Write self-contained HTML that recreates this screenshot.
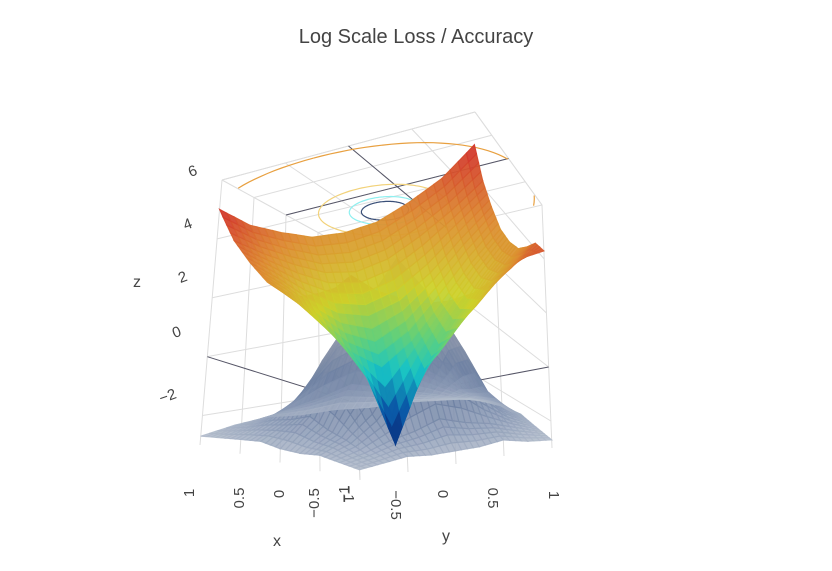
<!DOCTYPE html>
<html><head><meta charset="utf-8">
<style>
html,body{margin:0;padding:0;background:#fff;}
svg{display:block;font-family:"Liberation Sans","DejaVu Sans",sans-serif;}
</style></head>
<body>
<svg id="chart" width="832" height="571" viewBox="0 0 832 571">
<rect width="832" height="571" fill="#fff"/>
<text x="416" y="43" text-anchor="middle" font-size="20" fill="#444">Log Scale Loss / Accuracy</text>
<g id="grid"></g>
<g id="contours"></g>
<g id="acc"></g>
<g id="loss"></g>
<g id="labels" font-size="15" fill="#444"></g>
</svg>
<script>
// ---- data ----
const xVals = [-1,-0.75,-0.5,-0.25,0,0.25,0.5,0.75,1];
const yVals = [-1,-0.75,-0.5,-0.25,0,0.25,0.5,0.75,1];
const lossZ = [
 [5.0,4.2,3.7,3.3,3.2,3.3,3.7,4.2,5.0],
 [4.2,3.5,2.9,2.4,2.2,2.4,2.9,3.5,4.2],
 [3.7,2.9,2.0,1.3,1.0,1.3,2.0,2.9,3.7],
 [3.3,2.4,1.3,0.2,-0.5,0.2,1.3,2.4,3.3],
 [3.2,2.2,1.0,-0.5,-3.0,-0.5,1.0,2.2,3.2],
 [3.3,2.4,1.3,0.2,-0.5,0.2,1.3,2.4,3.3],
 [3.7,2.9,2.0,1.3,1.0,1.3,2.0,2.9,3.7],
 [4.2,3.5,2.9,2.4,2.2,2.4,2.9,3.5,4.2],
 [4.3,4.2,3.7,3.3,3.2,3.3,3.7,4.2,5.0]
];
const accZ = [
 [-2.6,-2.5,-2.4,-2.5,-2.5,-2.4,-2.5,-2.6,-2.7],
 [-2.5,-2.3,-2.0,-1.8,-1.5,-1.8,-2.0,-2.3,-2.5],
 [-2.4,-2.0,-1.2,0.1,0.5,0.1,-1.2,-2.0,-2.4],
 [-2.5,-1.8,0.1,1.5,2.2,1.5,0.1,-1.8,-2.5],
 [-2.5,-1.5,0.5,2.2,3.5,2.2,0.5,-1.5,-2.5],
 [-2.5,-1.8,0.1,1.5,2.2,1.5,0.1,-1.8,-2.6],
 [-2.4,-2.0,-1.2,0.1,0.5,0.1,-1.2,-2.1,-2.6],
 [-2.6,-2.3,-2.0,-1.8,-1.5,-1.8,-2.0,-2.4,-2.7],
 [-2.7,-2.6,-2.5,-2.4,-2.5,-2.5,-2.6,-2.7,-2.8]
];
const contourLevels = [0.2, 0.3, 0.55, 1.35];
const contourColors = ["#3a4f78","#8ff0f0","#f2d27a","#e8a040"];
const zTicks = [6,4,2,0,-2];
const xTicks = ["1","0.5","0","−0.5","−1"];
const yTicks = ["−1","−0.5","0","0.5","1"];

// ---- projection (bilinear box mapping) ----
const zb=-3, zt=6;
const F={A:[200,445],B:[470,405],C:[552,448],D:[360,480]};
const T={A:[222,180],B:[475,112],C:[542,205],D:[350,250]};
function bil(K,x,y){const u=(1-x)/2,v=(y+1)/2;
 return [K.A[0]*(1-u)*(1-v)+K.B[0]*(1-u)*v+K.C[0]*u*v+K.D[0]*u*(1-v),
         K.A[1]*(1-u)*(1-v)+K.B[1]*(1-u)*v+K.C[1]*u*v+K.D[1]*u*(1-v)];}
function proj(x,y,z){const t=(z-zb)/(zt-zb);const f=bil(F,x,y),g=bil(T,x,y);
 return [f[0]+t*(g[0]-f[0]), f[1]+t*(g[1]-f[1])];}
const NS="http://www.w3.org/2000/svg";
function hex(c){return [parseInt(c.slice(1,3),16),parseInt(c.slice(3,5),16),parseInt(c.slice(5,7),16)];}
function scale(stops,z){if(z<=stops[0][0])return stops[0][1];
 for(let i=1;i<stops.length;i++){if(z<=stops[i][0]){const a=stops[i-1],b=stops[i];const t=(z-a[0])/(b[0]-a[0]);
 const ca=hex(a[1]),cb=hex(b[1]);return "rgb("+ca.map((v,k)=>Math.round(v+(cb[k]-v)*t)).join(",")+")";}}
 return stops[stops.length-1][1];}
const lossScale=[[-3,"#0a1f6e"],[-1.8,"#0b5aa8"],[-0.6,"#17c3c6"],[0.4,"#5fd07c"],[1.6,"#cdd22a"],[2.4,"#d6b42e"],[3.4,"#dc8a30"],[5,"#d2302c"]];
const accScale=[[-2.7,"#b2bccb"],[-2.0,"#8c9bb6"],[-1.0,"#6f82a3"],[0.5,"#8e97ab"],[3.5,"#aaaaae"]];

function surface(gid,Z,sc,op,name){
 const g=document.getElementById(gid);const S=4;const quads=[];
 const n=xVals.length;
 for(let j=0;j<n-1;j++)for(let i=0;i<n-1;i++){
  for(let a=0;a<S;a++)for(let b=0;b<S;b++){
   const pts=[[a,b],[a+1,b],[a+1,b+1],[a,b+1]].map(([p,q])=>{
    const s=p/S,r=q/S;
    const x=xVals[i]+(xVals[i+1]-xVals[i])*s, y=yVals[j]+(yVals[j+1]-yVals[j])*r;
    const z=Z[j][i]*(1-s)*(1-r)+Z[j][i+1]*s*(1-r)+Z[j+1][i+1]*s*r+Z[j+1][i]*(1-s)*r;
    return [x,y,z];});
   const cx=pts.reduce((m,p)=>m+p[0],0)/4, cy=pts.reduce((m,p)=>m+p[1],0)/4, cz=pts.reduce((m,p)=>m+p[2],0)/4;
   quads.push({pts,depth:(1+cx)/2+(cy+1)/2,cz});
  }}
 quads.sort((p,q)=>p.depth-q.depth);
 quads.forEach(qd=>{
  const el=document.createElementNS(NS,"polygon");
  el.setAttribute("points",qd.pts.map(p=>proj(...p).map(v=>v.toFixed(1)).join(",")).join(" "));
  const c=scale(sc,qd.cz);
  el.setAttribute("fill",c);el.setAttribute("stroke",c);el.setAttribute("stroke-width","1.1");
  el.setAttribute("fill-opacity",op);el.setAttribute("stroke-opacity",op);
  
  
  g.appendChild(el);
 });
}

function line(g,a,b,col,w){const l=document.createElementNS(NS,"line");
 l.setAttribute("x1",a[0]);l.setAttribute("y1",a[1]);l.setAttribute("x2",b[0]);l.setAttribute("y2",b[1]);
 l.setAttribute("stroke",col);l.setAttribute("stroke-width",w);
 
 
 g.appendChild(l);}
const grid=document.getElementById("grid");
[-1,-0.5,0,0.5,1].forEach(v=>{
 line(grid,proj(v,-1,zb),proj(v,-1,zt),"#ddd",1);
 line(grid,proj(-1,v,zb),proj(-1,v,zt),"#ddd",1);
 line(grid,proj(v,-1,zt),proj(v,1,zt),"#ddd",1);
 line(grid,proj(-1,v,zt),proj(1,v,zt),"#ddd",1);
});
zTicks.forEach(z=>{line(grid,proj(1,-1,z),proj(1,1,z),"#ddd",1);line(grid,proj(1,1,z),proj(-1,1,z),"#ddd",1);});
line(grid,proj(1,-1,0),proj(-1,-1,0),"#556",1);line(grid,proj(-1,-1,0),proj(-1,1,0),"#556",1);
line(grid,proj(0,-1,zt),proj(0,1,zt),"#556",1);line(grid,proj(-1,0,zt),proj(1,0,zt),"#556",1);

const cg=document.getElementById("contours");
contourLevels.forEach((r,k)=>{
 let seg=[];
 const flush=()=>{if(seg.length>1){const pl=document.createElementNS(NS,"polyline");
  pl.setAttribute("points",seg.map(p=>p[0].toFixed(1)+","+p[1].toFixed(1)).join(" "));
  pl.setAttribute("fill","none");pl.setAttribute("stroke",contourColors[k]);pl.setAttribute("stroke-width","1.2");
  
  
  cg.appendChild(pl);} seg=[];};
 for(let a=0;a<=128;a++){const th=a/128*2*Math.PI;
  const x=r*Math.cos(th)-0.4, y=r*Math.sin(th)-0.3;
  if(Math.abs(x)<=1&&Math.abs(y)<=1) seg.push(proj(x,y,zt)); else flush();}
 flush();
});

surface("acc",accZ,accScale,0.85,"accuracy-patch");
surface("loss",lossZ,lossScale,0.95,"loss-patch");

const lg=document.getElementById("labels");
function txt(s,x,y,rot,name,size){const t=document.createElementNS(NS,"text");
 t.setAttribute("x",x);t.setAttribute("y",y);t.setAttribute("text-anchor","middle");
 t.setAttribute("dominant-baseline","middle");
 if(size)t.setAttribute("font-size",size);
 if(rot)t.setAttribute("transform","rotate("+rot+" "+x+" "+y+")");
 t.textContent=s;
 
 
 lg.appendChild(t);}
const zPos=[[193,172],[188,225],[183,278],[177,333],[168,397]];
zTicks.forEach((z,k)=>txt(String(z).replace("-","−"),zPos[k][0],zPos[k][1],-20,"z-tick-label"));
const xPos=[[190,493],[240,498],[280,494],[315,503],[345,494]];
xTicks.forEach((s,k)=>txt(s,xPos[k][0],xPos[k][1],-90,"x-tick-label"));
const yPos=[[348,494],[395,505],[442,494],[492,498],[553,495]];
yTicks.forEach((s,k)=>txt(s,yPos[k][0],yPos[k][1],90,"y-tick-label"));
txt("z",137,283,0,"z-axis-title",16);
txt("x",277,542,0,"x-axis-title",16);
txt("y",446,537,0,"y-axis-title",16);
</script>
</body></html>
